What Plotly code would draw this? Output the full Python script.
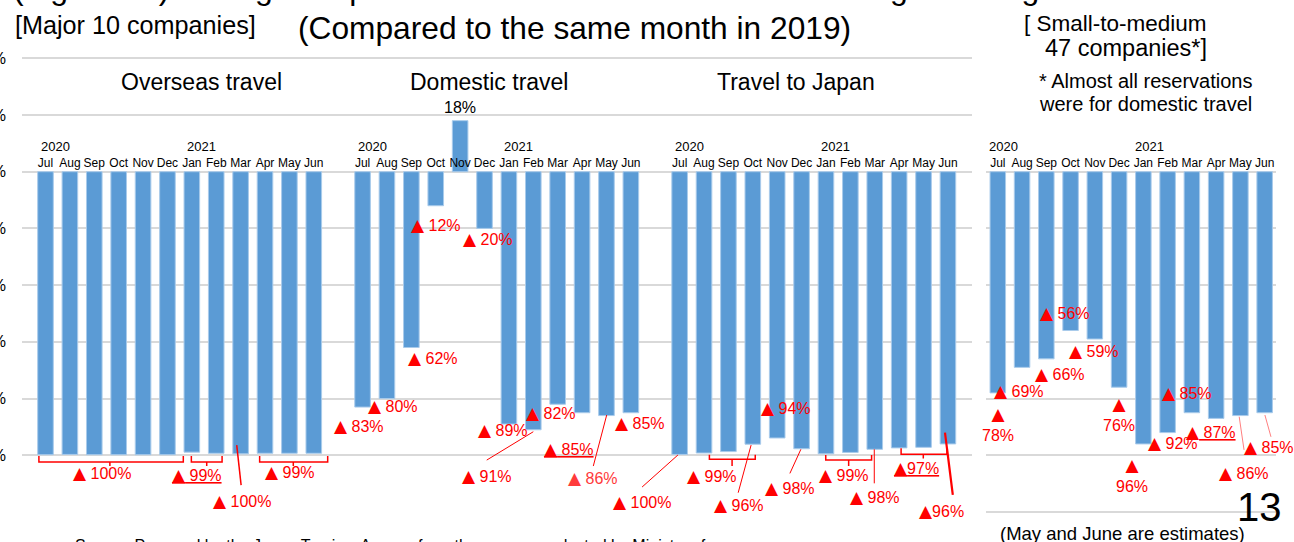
import plotly.graph_objects as go

# ---------------- data ----------------
months = ["Jul", "Aug", "Sep", "Oct", "Nov", "Dec", "Jan", "Feb", "Mar", "Apr", "May", "Jun"]
year_labels = ["2020", "2021"]
panel_titles = ["Overseas travel", "Domestic travel", "Travel to Japan"]

# change vs. same month of 2019 (%), Jul 2020 - Jun 2021
overseas = [-99.8, -99.7, -99.8, -99.8, -99.8, -99.8, -98.9, -99.3, -99.5, -99.3, -99.3, -99.3]
domestic = [-83, -80, -62, -12, 18, -20, -89, -91, -82, -85, -86, -85]
to_japan = [-99.7, -99.2, -98.7, -96.1, -93.9, -97.7, -99.5, -99.0, -97.9, -97.4, -97.2, -96.0]
small_medium = [-78, -69, -66, -56, -59, -76, -96, -92, -85, -87, -86, -85]

main_label_texts = ["▲ 100%", "<u>▲ 99%</u>", "▲ 100%", "▲ 99%",
                    "▲ 83%", "▲ 80%", "▲ 62%", "▲ 12%", "▲ 20%", "▲ 89%", "▲ 91%",
                    "▲ 82%", "<u>▲ 85%</u>", "▲ 86%", "▲ 85%",
                    "▲ 100%", "▲ 99%", "▲ 96%", "▲ 94%", "▲ 98%", "▲ 99%", "▲ 98%",
                    "<u>▲97%</u>", "▲96%"]
right_label_texts = ["▲ 69%", "▲<br>78%", "▲ 56%", "▲ 66%", "▲ 59%", "▲<br>76%",
                     "▲<br>96%", "▲ 92%", "▲ 85%", "▲<u> 87%</u>", "▲ 86%", "▲ 85%"]
nov_label = "18%"

# ---------------- layout constants (pixels of the 1294x542 page) ----------------
W, H = 1294, 542
ZERO_PX = 171.7
PX_PER_PCT = 2.8357
Y_LO, Y_HI = -130, 45
X0_MAIN, SLOT_MAIN, XDOM_MAIN = 45.5, 24.39, (22, 972)
X0_R, SLOT_R, XDOM_R = 997.8, 24.26, (986, 1276)
PANEL_GAP = 13


def px_x(px):
    return px / W


def px_y(py):
    return 1 - py / H


y_domain = [px_y(ZERO_PX - Y_LO * PX_PER_PCT), px_y(ZERO_PX - Y_HI * PX_PER_PCT)]
xr_main = [(XDOM_MAIN[0] - X0_MAIN) / SLOT_MAIN, (XDOM_MAIN[1] - X0_MAIN) / SLOT_MAIN]
xr_right = [(XDOM_R[0] - X0_R) / SLOT_R, (XDOM_R[1] - X0_R) / SLOT_R]

# label anchor positions (x in slot units, y in % units)
main_label_pos = [(2.32, -106.1), (6.20, -107.0), (8.06, -116.0), (10.01, -105.8),
                  (12.85, -89.6), (14.26, -82.5), (15.89, -65.6), (16.02, -18.9),
                  (18.14, -23.6), (18.76, -91.1), (18.11, -107.2),
                  (20.74, -85.2), (21.46, -97.7), (22.45, -108.1), (24.39, -88.7),
                  (24.46, -116.5), (27.31, -107.2), (28.43, -117.5), (30.37, -83.4),
                  (30.52, -111.6), (32.73, -107.0), (34.00, -114.6),
                  (35.70, -104.6), (36.72, -119.5)]
right_label_pos = [(0.88, -77.3), (0.01, -89.0), (2.76, -49.9), (2.58, -71.3), (3.96, -63.2),
                   (4.98, -85.6), (5.52, -107.0), (7.22, -95.8), (7.81, -78.1),
                   (8.78, -91.7), (10.14, -106.4), (11.17, -97.0)]

RED = "#FF0000"
BAR = "#5B9BD5"
GRID = "#D9D9D9"
FONT = "Liberation Sans, Arial, sans-serif"
TRI = '<span style="font-family:DejaVu Sans;font-size:17px">▲</span>'


def red_text(t):
    return t.replace("▲", TRI)


fig = go.Figure()

main_x, main_y = [], []
for p, vals in enumerate([overseas, domestic, to_japan]):
    for i, v in enumerate(vals):
        main_x.append(PANEL_GAP * p + i)
        main_y.append(v)

fig.add_trace(go.Bar(x=main_x, y=main_y, width=0.64, xaxis="x", yaxis="y",
                     marker=dict(color=BAR, line=dict(color="#A9CBEB", width=1)),
                     showlegend=False, hoverinfo="skip"))
fig.add_trace(go.Bar(x=list(range(12)), y=small_medium, width=0.64, xaxis="x2", yaxis="y2",
                     marker=dict(color=BAR, line=dict(color="#A9CBEB", width=1)),
                     showlegend=False, hoverinfo="skip"))

main_tickvals = [PANEL_GAP * p + i for p in range(3) for i in range(12)]
main_ticktext = months * 3

annotations = []
shapes = []

# red drop labels
for idx, ((x, y), t) in enumerate(zip(main_label_pos, main_label_texts)):
    col = "#FF3B3B" if idx == 13 else RED
    annotations.append(dict(xref="x", yref="y", x=x, y=y, text=red_text(t), showarrow=False,
                            font=dict(size=16, color=col, family=FONT)))
for (x, y), t in zip(right_label_pos, right_label_texts):
    annotations.append(dict(xref="x2", yref="y2", x=x, y=y, text=red_text(t), showarrow=False,
                            font=dict(size=16, color=RED, family=FONT)))

annotations.append(dict(xref="x", yref="y", x=PANEL_GAP + 4, y=22.8, text=nov_label,
                        showarrow=False, font=dict(size=16, color="#000", family=FONT)))

# panel titles
for tx, t in zip([6.38, 18.18, 30.77], panel_titles):
    annotations.append(dict(xref="x", yref="y", x=tx, y=31.6, text=t, showarrow=False,
                            font=dict(size=23, color="#000", family=FONT)))

# year labels
year_y = (ZERO_PX - 146) / PX_PER_PCT
for p in range(3):
    for k, yl in enumerate(year_labels):
        annotations.append(dict(xref="x", yref="y", x=PANEL_GAP * p + 6 * k, y=year_y, xshift=10,
                                text=yl, showarrow=False,
                                font=dict(size=13, color="#000", family=FONT)))
for k, yl in enumerate(year_labels):
    annotations.append(dict(xref="x2", yref="y2", x=6 * k, y=year_y, xshift=6,
                            text=yl, showarrow=False, font=dict(size=13, color="#000", family=FONT)))


def page_text(px, py, text, size, xanchor="center", yanchor="middle", color="#000"):
    annotations.append(dict(xref="paper", yref="paper", x=px_x(px), y=px_y(py), text=text,
                            showarrow=False, xanchor=xanchor, yanchor=yanchor,
                            font=dict(size=size, color=color, family=FONT)))

page_text(11, -12, "(Figure 13) Changes in performance of the reservations among travel agencies",
          32, xanchor="left")
page_text(574.5, 28, "(Compared to the same month in 2019)", 31.7)
page_text(135, 25, "[Major 10 companies]", 25.2)
page_text(1115, 24, "[ Small-to-medium", 22.5)
page_text(1126, 48, "47 companies*]", 23.5)
page_text(1145.5, 81, "* Almost all reservations", 20)
page_text(1145.5, 104, "were for domestic travel", 20)
page_text(1259, 507, "13", 40)
page_text(1122.5, 533, "(May and June are estimates)", 18.5)
page_text(73, 535, "Source: Prepared by the Japan Tourism Agency from the survey conducted by "
          "Ministry of", 16, xanchor="left", yanchor="top")


def bracket(xref, yref, x0, x1, y, yup, xm, ydown, width=1.5):
    shapes.append(dict(type="path", xref=xref, yref=yref,
                       path=f"M {x0},{yup} L {x0},{y} L {x1},{y} L {x1},{yup} M {xm},{y} L {xm},{ydown}",
                       line=dict(color=RED, width=width)))


def leader(xref, yref, x0, y0, x1, y1, width=1, color=RED):
    shapes.append(dict(type="line", xref=xref, yref=yref, x0=x0, y0=y0, x1=x1, y1=y1,
                       line=dict(color=color, width=width)))

bracket("x", "y", -0.27, 5.65, -102.4, -100.3, 2.64, -103.8)
bracket("x", "y", 5.98, 7.24, -102.4, -100.3, 6.61, -103.8)
bracket("x", "y", 8.78, 11.57, -102.4, -100.3, 10.16, -103.8)
leader("x", "y", 7.84, -96.4, 8.02, -110.5, width=1.5)
leader("x", "y", 18.09, -101.7, 20.0, -91.7)
leader("x", "y", 22.46, -103.8, 23.01, -85.8)
leader("x", "y", 24.46, -111.2, 25.93, -99.9)
bracket("x", "y", 27.22, 29.10, -101.4, -99.8, 28.15, -103.8)
leader("x", "y", 28.40, -113.2, 28.93, -96.4)
leader("x", "y", 30.52, -106.4, 30.97, -97.9)
bracket("x", "y", 31.99, 33.87, -101.7, -99.9, 32.93, -103.8)
leader("x", "y", 33.98, -97.9, 33.98, -109.9)
bracket("x", "y", 35.08, 36.96, -99.6, -97.5, 35.99, -101.1)
leader("x", "y", 36.88, -92.0, 37.20, -114.0, width=2.2)
leader("x2", "y2", 9.95, -86.4, 10.15, -98.1, color="#FF8080")
leader("x2", "y2", 11.01, -85.8, 11.26, -93.5, color="#FF8080")

axis_common = dict(showline=False, zeroline=False, ticks="", fixedrange=True, automargin=False)

fig.update_layout(
    width=W, height=H,
    margin=dict(l=0, r=0, t=0, b=0, pad=0, autoexpand=False),
    paper_bgcolor="white", plot_bgcolor="white",
    barmode="overlay",
    font=dict(family=FONT, color="#000"),
    xaxis=dict(domain=[px_x(XDOM_MAIN[0]), px_x(XDOM_MAIN[1])], range=xr_main,
               anchor="free", position=px_y(ZERO_PX), side="top", tickangle=0,
               tickmode="array", tickvals=main_tickvals, ticktext=main_ticktext,
               tickfont=dict(size=12, color="#000", family=FONT), ticklabelstandoff=2,
               showgrid=False, **axis_common),
    yaxis=dict(domain=y_domain, range=[Y_LO, Y_HI], anchor="x",
               tickmode="array", tickvals=list(range(-100, 41, 20)),
               ticktext=[f"{v}%" for v in range(-100, 41, 20)],
               tickfont=dict(size=16, color="#000", family=FONT), ticklabelstandoff=15,
               showgrid=True, gridcolor=GRID, gridwidth=2, **axis_common),
    xaxis2=dict(domain=[px_x(XDOM_R[0]), px_x(XDOM_R[1])], range=xr_right,
                anchor="free", position=px_y(ZERO_PX), side="top", tickangle=0,
                tickmode="array", tickvals=list(range(12)), ticktext=months,
                tickfont=dict(size=12, color="#000", family=FONT), ticklabelstandoff=2,
                showgrid=False, **axis_common),
    yaxis2=dict(domain=y_domain, range=[Y_LO, Y_HI], anchor="x2",
                tickmode="array", tickvals=list(range(-120, 1, 20)),
                showticklabels=False,
                showgrid=True, gridcolor=GRID, gridwidth=2, **axis_common),
    annotations=annotations,
    shapes=shapes,
)

fig.write_html("out.html", config={"displayModeBar": False},
               post_script="document.body.style.margin='0';document.body.style.overflow='hidden';")
